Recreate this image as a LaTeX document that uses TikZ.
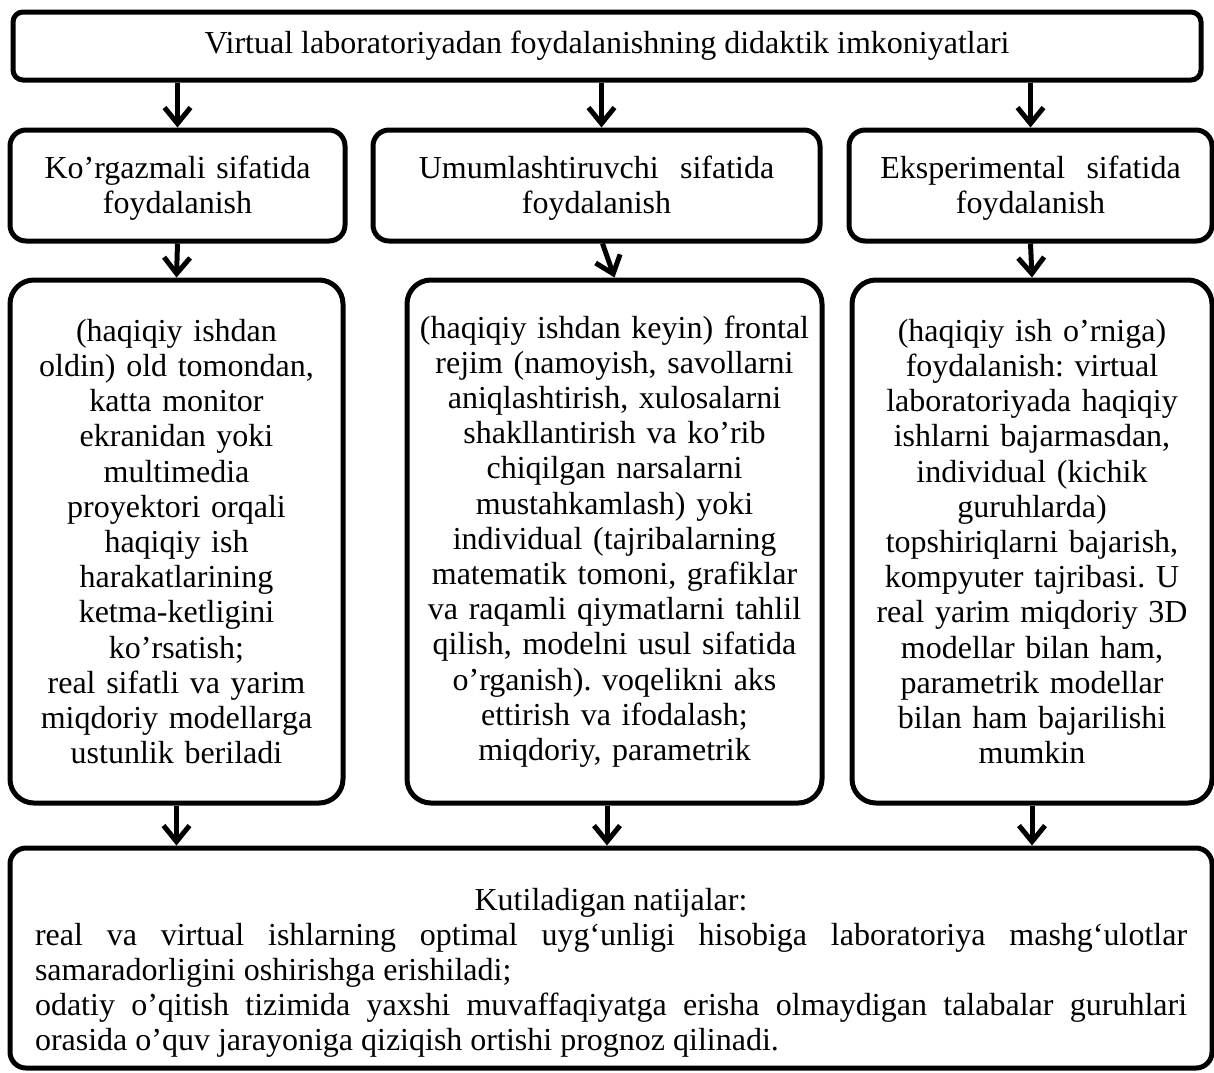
\documentclass[tikz,border=0pt]{standalone}
\usepackage{fontspec}
\setmainfont{Liberation Serif}
\usetikzlibrary{arrows.meta}
\setlength{\parindent}{0pt}
\frenchspacing

\begin{document}
\begin{tikzpicture}[x=0.5pt, y=-0.5pt, line width=2.5pt,
  every node/.style={font=\fontsize{16}{17.6}\selectfont},
  headbox/.style={draw, rounded corners=5pt, minimum width=594pt, minimum height=34pt},
  kindbox/.style={draw, rounded corners=8pt, align=center, minimum height=55.5pt, inner sep=3pt},
  descbox/.style={draw, rounded corners=12pt, align=center, minimum height=261.5pt, inner sep=3pt},
  resultbox/.style={draw, rounded corners=8pt, align=justify, text width=576pt,
    inner xsep=12.5pt, minimum height=110pt},
  arr/.style={-{Straight Barb[length=8pt,width=13pt]}}]
  \useasboundingbox (0,0) rectangle (1214,1072);

  % Draw the title
  \node[headbox] (head) at (607,46)
    {Virtual laboratoriyadan foydalanishning didaktik imkoniyatlari};

  % Draw the three ways of use
  \node[kindbox, text width=161.5pt] (k1) at (177.5,185.5)
    {\rule{0pt}{14pt}Ko’rgazmali sifatida\\foydalanish};
  \node[kindbox, text width=217.5pt] (k2) at (596.5,185.5)
    {\rule{0pt}{14pt}Umumlashtiruvchi\ \ sifatida\\foydalanish};
  \node[kindbox, text width=175.5pt] (k3) at (1030.5,185.5)
    {\rule{0pt}{14pt}Eksperimental\ \ sifatida\\foydalanish};

  % Draw the descriptions
  \node[descbox, text width=160.5pt] (d1) at (176.5,541.5)
    {(haqiqiy ishdan\\oldin) old tomondan,\\katta monitor\\ekranidan yoki\\
     multimedia\\proyektori orqali\\haqiqiy ish\\harakatlarining\\
     ketma-ketligini\\ko’rsatish;\\real sifatli va yarim\\
     miqdoriy modellarga\\ustunlik beriladi};
  \node[descbox, text width=201.5pt] (d2) at (614.5,541.5)
    {(haqiqiy ishdan keyin) frontal\\rejim (namoyish, savollarni\\
     aniqlashtirish, xulosalarni\\shakllantirish va ko’rib\\
     chiqilgan narsalarni\\mustahkamlash) yoki\\individual (tajribalarning\\
     matematik tomoni, grafiklar\\va raqamli qiymatlarni tahlil\\
     qilish, modelni usul sifatida\\o’rganish). voqelikni aks\\
     ettirish va ifodalash;\\miqdoriy, parametrik};
  \node[descbox, text width=174pt] (d3) at (1032,541.5)
    {(haqiqiy ish o’rniga)\\foydalanish: virtual\\laboratoriyada haqiqiy\\
     ishlarni bajarmasdan,\\individual (kichik\\guruhlarda)\\
     topshiriqlarni bajarish,\\kompyuter tajribasi. U\\
     real yarim miqdoriy 3D\\modellar bilan ham,\\parametrik modellar\\
     bilan ham bajarilishi\\mumkin};

  % Draw the expected results
  \node[resultbox] (result) at (611,958)
    {\sloppy\rule{0pt}{26pt}\hspace*{\fill}Kutiladigan natijalar:\hspace*{\fill}\\
     real va virtual ishlarning optimal uyg‘unligi hisobiga laboratoriya
     mashg‘ulotlar\linebreak samaradorligini oshirishga erishiladi;\\
     odatiy o’qitish tizimida yaxshi muvaffaqiyatga erisha olmaydigan talabalar
     guruhlari\linebreak orasida o’quv jarayoniga qiziqish ortishi prognoz qilinadi.};

  % Draw the arrows
  \foreach \n in {1,3} {
    \draw[arr] (head.south -| k\n.north) -- (k\n.north);
    \draw[arr] (k\n.south) -- (d\n.north);
    \draw[arr] (d\n.south) -- (d\n.south |- result.north);
  }
  \draw[arr] ([xshift=2.5pt]head.south -| k2.north) -- ([xshift=2.5pt]k2.north);
  \draw[arr] ([xshift=3pt]k2.south) -- (d2.north);
  \draw[arr] (d2.south -| head.south) -- (head.south |- result.north);
\end{tikzpicture}
\end{document}
